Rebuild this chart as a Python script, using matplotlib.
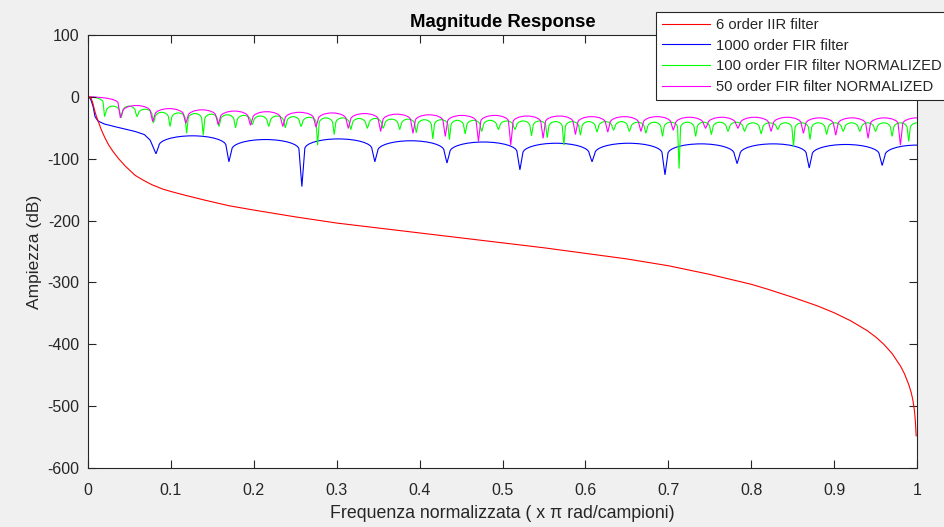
import matplotlib
matplotlib.use("Agg")
import matplotlib.pyplot as plt
from matplotlib.path import Path
from matplotlib.patches import PathPatch
from matplotlib.lines import Line2D

# ---------------- data ----------------
# 6 order IIR filter
iir_x = [0.0, 0.002, 0.004, 0.006, 0.008, 0.010, 0.013, 0.016, 0.02, 0.025, 0.03,
         0.037, 0.045, 0.057, 0.067, 0.077, 0.09, 0.10, 0.117, 0.141, 0.17, 0.20,
         0.25, 0.30, 0.35, 0.40, 0.45, 0.50, 0.55, 0.60, 0.65, 0.70, 0.75, 0.80,
         0.82, 0.85, 0.88, 0.90, 0.92, 0.94, 0.95, 0.96, 0.97, 0.98, 0.985, 0.99,
         0.993, 0.995, 0.997, 0.998, 0.999]
iir_db = [0, -0.3, -3, -11, -22, -31, -42, -53, -65, -78, -88,
          -100, -112, -127, -135, -142, -149, -153, -159, -167, -176, -183,
          -194, -204, -212, -220, -228, -236, -244, -253, -262, -273, -287, -303,
          -311, -324, -338, -349, -362, -378, -388, -400, -415, -435, -448, -465,
          -478, -490, -508, -524, -548]

# 1000 order FIR filter
fir1000_lead_x = [0.0, 0.003, 0.006, 0.0085, 0.012, 0.02, 0.035, 0.057, 0.068, 0.075]
fir1000_lead_db = [0, -3, -15, -32, -39, -44, -49, -56, -61, -70]
fir1000_notch_x = [0.082, 0.170, 0.258, 0.346, 0.433, 0.521, 0.608, 0.696, 0.783, 0.870, 0.958]
fir1000_notch_db = [-92, -105, -145, -105, -107, -118, -105, -126, -108, -115, -111]
fir1000_peak_db = [0, -63, -69, -68, -71, -73, -75, -75, -76, -76, -77, -78]

# 100 order FIR filter NORMALIZED
fir100_notch_x = [0.020, 0.040, 0.059, 0.079, 0.099, 0.119, 0.139, 0.158, 0.178, 0.198,
                  0.218, 0.238, 0.257, 0.277, 0.297, 0.317, 0.337, 0.356, 0.376, 0.396,
                  0.416, 0.436, 0.455, 0.475, 0.495, 0.515, 0.535, 0.554, 0.574, 0.594,
                  0.614, 0.634, 0.653, 0.673, 0.693, 0.713, 0.733, 0.752, 0.772, 0.792,
                  0.812, 0.832, 0.851, 0.871, 0.891, 0.911, 0.931, 0.950, 0.970, 0.990]
fir100_notch_db = [-32, -34, -32, -42, -48, -59, -62, -48, -50, -45,
                   -48, -50, -48, -78, -61, -53, -51, -51, -53, -58,
                   -68, -69, -60, -56, -53, -53, -63, -66, -78, -62,
                   -57, -54, -56, -59, -64, -116, -64, -61, -56, -56,
                   -60, -53, -80, -69, -61, -56, -56, -56, -64, -72]
fir100_peak_db = [0, -15, -15, -20, -25, -26, -27, -28, -29, -30, -31,
                  -31, -32, -33, -34, -34, -35, -35, -36, -36, -37,
                  -37, -38, -38, -38, -39, -39, -39, -40, -40, -40,
                  -40, -40, -41, -41, -41, -41, -41, -41, -41, -42,
                  -42, -42, -42, -42, -42, -42, -42, -42, -42, -42]

# 50 order FIR filter NORMALIZED
fir50_notch_x = [0.039, 0.078, 0.118, 0.157, 0.196, 0.235, 0.275, 0.314, 0.353, 0.392,
                 0.431, 0.471, 0.510, 0.549, 0.588, 0.627, 0.667, 0.706, 0.745, 0.784,
                 0.824, 0.863, 0.902, 0.941, 0.980]
fir50_notch_db = [-34, -40, -43, -45, -46, -48, -49, -51, -56, -59,
                  -64, -72, -78, -67, -61, -57, -56, -54, -51, -51,
                  -56, -59, -62, -67, -78]
fir50_peak_db = [0, -14, -19, -21, -23, -24, -25, -26, -27, -28, -29,
                 -30, -30, -31, -31, -32, -32, -32, -33, -33, -33,
                 -33, -34, -34, -34, -34]

legend_labels = ["6 order IIR filter", "1000 order FIR filter",
                 "100 order FIR filter NORMALIZED", "50 order FIR filter NORMALIZED"]
xticks = [0, 0.1, 0.2, 0.3, 0.4, 0.5, 0.6, 0.7, 0.8, 0.9, 1]
xtick_labels = ["0", "0.1", "0.2", "0.3", "0.4", "0.5", "0.6", "0.7", "0.8", "0.9", "1"]
yticks = [-600, -500, -400, -300, -200, -100, 0, 100]


# ---------------- drawing helpers ----------------
def lobe_path(notch_x, notch_db, peak_db, r, dfrac, lead_x=None, lead_y=None, x_end=1.0):
    verts, codes = [], []
    k = 0.55

    def half_down(m, p, s, rr):
        verts.extend([(m + k * (s - m), p), (s, p - rr + k * rr), (s, p - rr)])
        codes.extend([Path.CURVE4] * 3)

    def half_up(s, p, rr, m):
        verts.extend([(s, p - rr + k * rr), (m - k * (m - s), p), (m, p)])
        codes.extend([Path.CURVE4] * 3)

    n = len(notch_x)
    w = notch_x[1] - notch_x[0]
    d = dfrac * w
    if lead_x is None:
        p0 = peak_db[0]
        verts.append((0.0, p0)); codes.append(Path.MOVETO)
        rr = min(r, 0.6 * (p0 - notch_db[0]))
        half_down(0.0, p0, notch_x[0] - d, rr)
    else:
        verts.append((lead_x[0], lead_y[0])); codes.append(Path.MOVETO)
        for x, y in zip(lead_x[1:], lead_y[1:]):
            verts.append((x, y)); codes.append(Path.LINETO)
    for i in range(n):
        a = notch_x[i]
        verts.append((a, notch_db[i])); codes.append(Path.LINETO)
        p = peak_db[i + 1]
        rl = min(r, 0.6 * (p - notch_db[i]))
        verts.append((a + d, p - rl)); codes.append(Path.LINETO)
        if i + 1 < n:
            b = notch_x[i + 1]
            m = 0.5 * (a + b)
            half_up(a + d, p, rl, m)
            rr = min(r, 0.6 * (p - notch_db[i + 1]))
            half_down(m, p, b - d, rr)
        else:
            half_up(a + d, p, rl, x_end)
    return Path(verts, codes)


# ---------------- figure ----------------
plt.rcParams["font.family"] = ["Liberation Sans", "DejaVu Sans"]
plt.rcParams["axes.unicode_minus"] = False
TXT = "#262626"

fig = plt.figure(figsize=(9.45, 5.27), dpi=100, facecolor="#f0f0f0")
ax = fig.add_axes([88 / 945, 1 - 468 / 527, (917 - 88) / 945, (468 - 35) / 527])
ax.set_facecolor("white")

colors = ["#ff0000", "#0000ff", "#00ff00", "#ff00ff"]
lw = 0.8

ax.plot(iir_x, iir_db, color=colors[0], lw=lw)

p_blue = lobe_path(fir1000_notch_x, fir1000_notch_db, fir1000_peak_db, r=16, dfrac=0.04,
                   lead_x=fir1000_lead_x, lead_y=fir1000_lead_db)
ax.add_patch(PathPatch(p_blue, fill=False, edgecolor=colors[1], lw=lw))

p_green = lobe_path(fir100_notch_x, fir100_notch_db, fir100_peak_db, r=9, dfrac=0.09)
ax.add_patch(PathPatch(p_green, fill=False, edgecolor=colors[2], lw=lw))

p_mag = lobe_path(fir50_notch_x, fir50_notch_db, fir50_peak_db, r=10, dfrac=0.07)
ax.add_patch(PathPatch(p_mag, fill=False, edgecolor=colors[3], lw=lw))

ax.set_xlim(0, 1)
ax.set_ylim(-600, 100)
ax.set_xticks(xticks)
ax.set_xticklabels(xtick_labels)
ax.set_yticks(yticks)
ax.tick_params(direction="in", length=6, width=0.8, colors=TXT, labelsize=11.5,
               top=True, right=True, labeltop=False, labelright=False)
ax.tick_params(axis="x", pad=11)
ax.tick_params(axis="y", pad=6)
for s in ax.spines.values():
    s.set_color(TXT)
    s.set_linewidth(0.8)

ax.set_title("Magnitude Response", fontsize=13.3, fontweight="bold", color="black", pad=6)
ax.set_xlabel("Frequenza normalizzata ( x \u03c0 rad/campioni)", fontsize=12.8, color=TXT, labelpad=5)
ax.set_ylabel("Ampiezza (dB)", fontsize=12.5, color=TXT, labelpad=4)

handles = [Line2D([], [], color=c, lw=lw) for c in colors]
leg = fig.legend(handles, legend_labels, loc="upper left",
                 bbox_to_anchor=(656 / 945, 1 - 12 / 527), bbox_transform=fig.transFigure,
                 fontsize=10.6, frameon=True, fancybox=False, framealpha=1,
                 edgecolor=TXT, handlelength=3.3, handletextpad=0.35,
                 labelspacing=0.45, borderpad=0.4, borderaxespad=0)
leg.get_frame().set_linewidth(0.8)
for t in leg.get_texts():
    t.set_color(TXT)

fig.savefig("out.png", dpi=100, facecolor=fig.get_facecolor())
